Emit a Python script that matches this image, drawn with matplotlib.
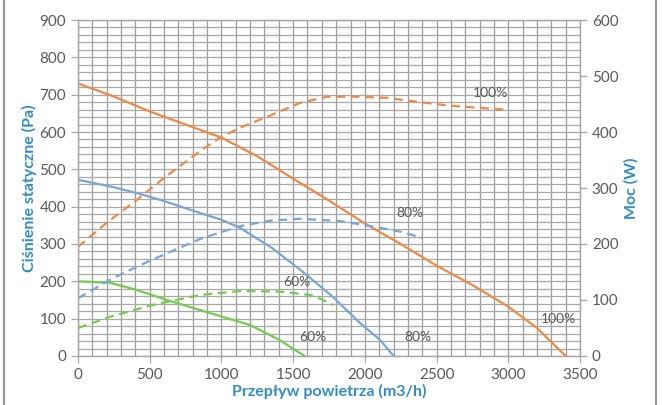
import matplotlib
matplotlib.use('Agg')
import matplotlib.pyplot as plt
from matplotlib.ticker import MultipleLocator
from matplotlib.patches import Rectangle

plt.rcParams['font.family'] = ['Lato', 'DejaVu Sans']

# --- DATA ---
# static pressure curves (Pa, left axis)
p100_x = [0, 250, 500, 850, 1000, 1250, 1500, 1743, 2000, 2250, 2500, 2750, 3000, 3200, 3400]
p100_y = [730, 695, 655, 606, 585, 535, 475, 418, 355, 300, 242, 190, 132, 75, 0]
p80_x = [0, 250, 432, 600, 851, 1000, 1130, 1350, 1569, 1778, 1967, 2106, 2200]
p80_y = [472, 452, 434, 415, 383, 365, 343, 290, 225, 158, 88, 43, 0]
p60_x = [0, 223, 400, 620, 851, 1000, 1199, 1400, 1580]
p60_y = [200, 196, 178, 150, 123, 106, 83, 44, 0]

# power curves (W, right axis)
w100_x = [0, 200, 411, 600, 851, 990, 1150, 1318, 1548, 1736, 1946, 2155, 2364, 2594, 2800, 2980]
w100_y = [195, 238, 279, 318, 366, 390, 410, 427, 452, 463, 463, 461, 454, 447, 443, 440]
w80_x = [0, 250, 500, 851, 1130, 1350, 1548, 1827, 2106, 2250, 2400]
w80_y = [103, 140, 170, 209, 232, 242, 245, 241, 229, 222, 211]
w60_x = [0, 223, 500, 851, 1130, 1409, 1618, 1700, 1780]
w60_y = [50, 70, 90, 109, 116, 115, 109, 101, 91]

labels = [(2873, 705, '100%'), (2315, 383, '80%'), (1527, 198, '60%'),
          (1639, 51, '60%'), (2371, 51, '80%'), (3347, 99, '100%')]

ORANGE = '#EE8A45'
BLUE = '#7AA6D6'
GREEN = '#72CC4E'
TITLE_BLUE = '#2F8DC8'
TXT = '#5a5a5a'
GRID = '#a8a8a8'

fig = plt.figure(figsize=(6.64, 4.05), dpi=100)
fig.patches.append(Rectangle((0.006, -0.01), 0.982, 1.05, transform=fig.transFigure,
                             fill=False, edgecolor='#9a9a9a', linewidth=1.6))

ax = fig.add_axes([0.1175, 0.121, 0.756, 0.8296])
ax2 = ax.twinx()

ax.set_xlim(0, 3500)
ax.set_ylim(0, 900)
ax2.set_ylim(0, 600)

ax.xaxis.set_major_locator(MultipleLocator(500))
ax.xaxis.set_minor_locator(MultipleLocator(100))
ax.yaxis.set_major_locator(MultipleLocator(100))
ax.yaxis.set_minor_locator(MultipleLocator(20))
ax2.yaxis.set_major_locator(MultipleLocator(100))

ax.grid(which='minor', axis='x', color='#9c9c9c', linewidth=0.9)
ax.grid(which='major', axis='x', color='#9c9c9c', linewidth=0.9)
ax.grid(which='both', axis='y', color=GRID, linewidth=0.9)
ax.set_axisbelow(True)

for a in (ax, ax2):
    for s in a.spines.values():
        s.set_color(GRID)
        s.set_linewidth(0.9)
    a.tick_params(which='major', colors=GRID, labelcolor=TXT, labelsize=11, length=5, width=0.9)
    a.tick_params(which='minor', length=0)

ax.tick_params(axis='x', pad=4)

ax.plot(p100_x, p100_y, color=ORANGE, lw=1.6)
ax.plot(p80_x, p80_y, color=BLUE, lw=1.6)
ax.plot(p60_x, p60_y, color=GREEN, lw=1.6)
ax2.plot(w100_x, w100_y, color=ORANGE, lw=1.6, ls=(0, (4, 2.5)))
ax2.plot(w80_x, w80_y, color=BLUE, lw=1.6, ls=(0, (4, 2.5)))
ax2.plot(w60_x, w60_y, color=GREEN, lw=1.6, ls=(0, (4, 2.5)))

for x, y, t in labels:
    ax.text(x, y, t, color=TXT, fontsize=10, ha='center', va='center')

ax.set_xlabel('Przepływ powietrza (m3/h)', color=TITLE_BLUE, fontsize=11.5,
              fontweight='bold', labelpad=1)
ax.set_ylabel('Ciśnienie statyczne (Pa)', color=TITLE_BLUE, fontsize=11.5,
              fontweight='bold', labelpad=2)
ax2.set_ylabel('Moc (W)', color=TITLE_BLUE, fontsize=11.5, fontweight='bold', labelpad=4)

fig.savefig('out.png', dpi=100)
